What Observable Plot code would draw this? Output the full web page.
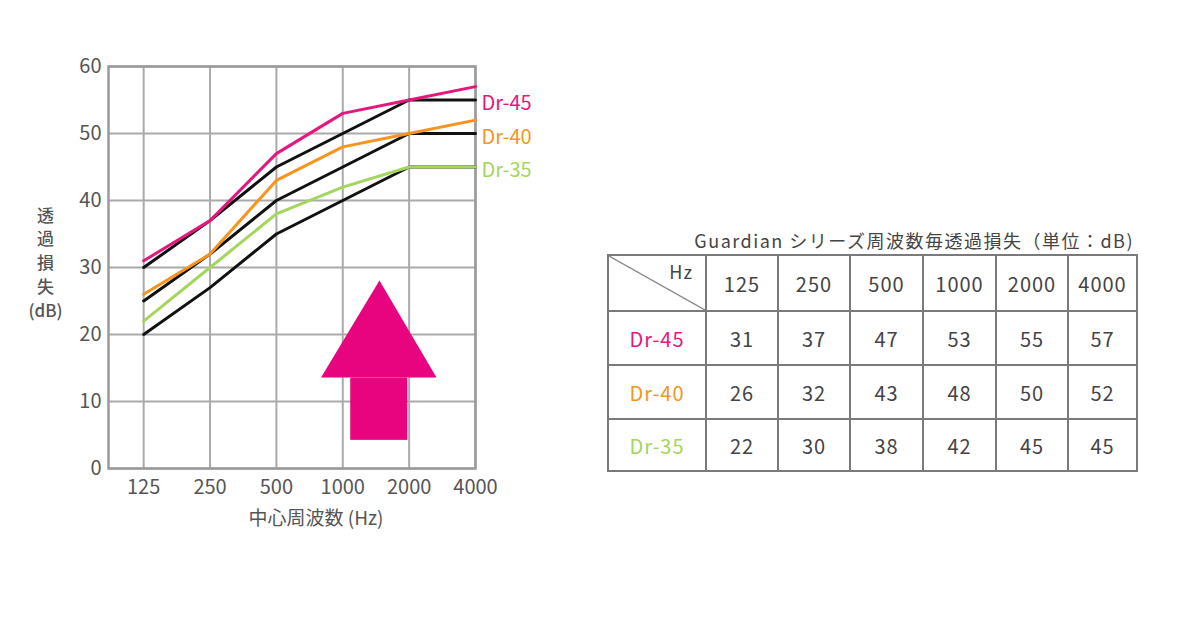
<!DOCTYPE html>
<html>
<head>
<meta charset="utf-8">
<script src="https://cdn.jsdelivr.net/npm/d3@7"></script>
<script src="https://cdn.jsdelivr.net/npm/@observablehq/plot@0.6"></script>
<style>
  html, body { margin: 0; padding: 0; background: #fff; }
  body { width: 1200px; height: 623px; position: relative; overflow: hidden;
         font-family: "Noto Sans CJK JP", "Noto Sans", sans-serif; }
  #chart { position: absolute; left: 0; top: 0; }
  #title { position: absolute; left: 560px; width: 574px; top: 227px; text-align: right;
           font-size: 18px; color: #444; line-height: 26px; white-space: nowrap; letter-spacing: 1.5px; }
  #tbl { position: absolute; left: 607px; top: 254px; border-collapse: collapse;
         table-layout: fixed; width: 529px; }
  #tbl td { border: 2px solid #7a7a7a; text-align: center; font-size: 20px; color: #444;
            padding: 0; letter-spacing: 1px; box-sizing: border-box; }
  #tbl td.corner { text-align: right; vertical-align: top; font-size: 18px;
            padding: 2px 12px 0 0;
            background: linear-gradient(to top right, transparent calc(50% - 1.2px), #7a7a7a 50%, transparent calc(50% + 1.2px)); }
</style>
</head>
<body>
<div id="chart"></div>
<div id="title"></div>
<table id="tbl"><colgroup id="cols"></colgroup></table>
<script>
// ---- data ----
const freqs = ["125", "250", "500", "1000", "2000", "4000"];
const seriesNames = ["Dr-45", "Dr-40", "Dr-35"];
const seriesColors = ["#e5177f", "#f7941e", "#a4d65e"];
const dr45 = [31, 37, 47, 53, 55, 57];
const dr40 = [26, 32, 43, 48, 50, 52];
const dr35 = [22, 30, 38, 42, 45, 45];
// reference (standard) Dr curves drawn in black
const std45 = [30, 37, 45, 50, 55, 55];
const std40 = [25, 32, 40, 45, 50, 50];
const std35 = [20, 27, 35, 40, 45, 45];
const yTicks = [0, 10, 20, 30, 40, 50, 60];
// decorative arrow, in data units (x = frequency index, y = dB)
const arrowHeadX = [2.68, 3.56, 4.42];
const arrowHeadY = [13.5, 28.0, 13.5];
const arrowShaftX = [3.12, 3.98];
const arrowShaftY = [4.2, 13.5];
const tableTitle = "Guardian シリーズ周波数毎透過損失（単位：dB)";
const xLabel = "中心周波数 (Hz)";
const yLabel = "透\n過\n損\n失\n(dB)";

// ---- build ----
const measured = [dr45, dr40, dr35];
const standards = [std45, std40, std35];
const idx = d3.range(freqs.length);
const toRows = (vals) => vals.map((v, i) => ({i, v}));

const font = "'Noto Sans CJK JP', 'Noto Sans', sans-serif";
const textColor = "#555";

const marks = [
  Plot.gridX(idx, {stroke: "#aaa", strokeOpacity: 1, strokeWidth: 2}),
  Plot.gridY(yTicks, {stroke: "#aaa", strokeOpacity: 1, strokeWidth: 2}),
  Plot.frame({stroke: "#9a9a9a", strokeWidth: 2.5}),
  Plot.axisX(idx, {tickSize: 0, tickPadding: 11, tickFormat: i => freqs[i], label: null,
                   fontSize: 20, fill: textColor, style: {letterSpacing: "1px"}}),
  Plot.axisY(yTicks, {tickSize: 0, tickPadding: 7, label: null, fontSize: 20, fill: textColor,
                      style: {letterSpacing: "1px"}}),
  // arrow
  Plot.rect([0], {x1: arrowShaftX[0], x2: arrowShaftX[1], y1: arrowShaftY[0], y2: arrowShaftY[1],
                  fill: "#e8037f"}),
  Plot.areaY(arrowHeadX.map((x, k) => ({x, y: arrowHeadY[k]})),
             {x: "x", y1: arrowHeadY[0], y2: "y", fill: "#e8037f"})
];
standards.forEach(s => marks.push(
  Plot.line(toRows(s), {x: "i", y: "v", stroke: "#111", strokeWidth: 3})
));
measured.forEach((s, k) => marks.push(
  Plot.line(toRows(s), {x: "i", y: "v", stroke: seriesColors[k], strokeWidth: 3})
));
marks.push(
  Plot.text(seriesNames.map((name, k) => ({name, y: standards[k][standards[k].length - 1], k})), {
    x: () => freqs.length - 1, y: "y", text: "name", fill: d => seriesColors[d.k],
    textAnchor: "start", dx: 6, dy: 4, fontSize: 20
  }),
  Plot.text([yLabel], {frameAnchor: "left", dx: -63, dy: -6, lineAnchor: "middle",
                       textAnchor: "middle", lineHeight: 1.4, fontSize: 17, fontWeight: 500,
                       fill: textColor}),
  Plot.text([xLabel], {frameAnchor: "bottom", dx: 24, dy: 50, lineAnchor: "middle",
                       fontSize: 19, fill: textColor})
);

const chart = Plot.plot({
  width: 560, height: 540,
  marginLeft: 108, marginRight: 85, marginTop: 66, marginBottom: 72,
  x: {domain: [-0.53, 5]},
  y: {domain: [0, 60]},
  color: {type: "identity"},
  style: {fontFamily: font, background: "#fff", color: textColor},
  marks
});
document.getElementById("chart").appendChild(chart);

// ---- table ----
document.getElementById("title").textContent = tableTitle;
const colWidths = [98, 72, 72, 73, 73, 72, 69];
const rowHeights = [56, 54, 54, 52];
const cols = document.getElementById("cols");
colWidths.forEach(w => { const c = document.createElement("col"); c.style.width = w + "px"; cols.appendChild(c); });
const tbl = document.getElementById("tbl");
const head = tbl.insertRow();
head.style.height = rowHeights[0] + "px";
const corner = head.insertCell();
corner.className = "corner";
corner.textContent = "Hz";
freqs.forEach((f) => {
  const c = head.insertCell();
  c.textContent = f;
});
measured.forEach((vals, k) => {
  const r = tbl.insertRow();
  r.style.height = rowHeights[k + 1] + "px";
  const lab = r.insertCell();
  lab.textContent = seriesNames[k];
  lab.style.color = seriesColors[k];
  vals.forEach(v => { const c = r.insertCell(); c.textContent = v; });
});
</script>
</body>
</html>
